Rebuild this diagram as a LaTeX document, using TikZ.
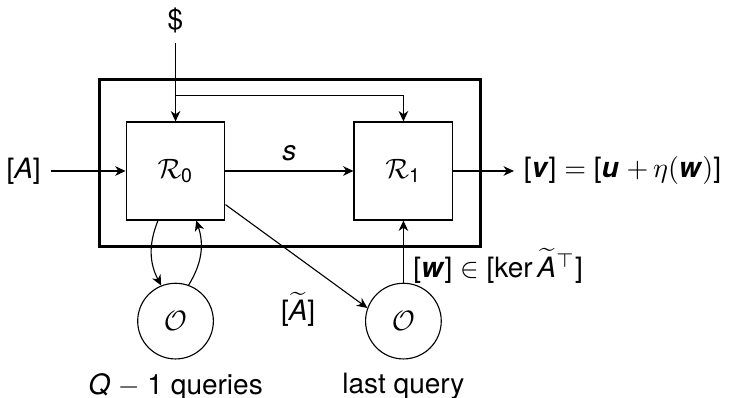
\documentclass[tikz,border=0pt]{standalone}
\usepackage{amsmath}
\usepackage{fontspec}
\setmainfont{TeX Gyre Heros}
\usetikzlibrary{arrows.meta, calc, positioning}

\newcommand{\mvar}[1]{\textit{#1}}
\newcommand{\bvar}[1]{\textbf{\textit{#1}}}
\newcommand{\tildeA}{\widetilde{\text{\itshape A}}}

\begin{document}
\begin{tikzpicture}[
    node distance=16mm,
    every node/.style={font=\normalsize},
    reduct/.style={draw, minimum width=12.4mm, minimum height=12.3mm, inner sep=0pt},
    oracle/.style={draw, circle, minimum size=9.5mm, inner sep=0pt},
    arr/.style={-{Stealth[length=1.3mm, width=1.2mm, inset=0.4mm]}},
  ]
  \useasboundingbox (-22.03mm,21.46mm) rectangle (70.09mm,-28.49mm);
  % --- reductions
  \node[reduct] (R0) at (0,0) {$\mathcal{R}_{\text{0}}$};
  \node[reduct, right=16.06mm of R0] (R1) {$\mathcal{R}_{\text{1}}$};
  % --- oracles
  \node[oracle, below=7.8mm of R0] (Oq) {$\mathcal{O}$};
  \node[oracle, below=7.8mm of R1] (Olast) {$\mathcal{O}$};
  \node[below=0.5mm of Oq] (qlbl) {\mvar{Q} $-$ 1 queries};
  \node[below=0.5mm of Olast] (lastlbl) {last query};
  % --- inputs and output
  \node[above=9.9mm of R0] (coins) {\$};
  \node[left=9.4mm of R0] (inA) {[\mvar{A}]};
  \node[right=7.6mm of R1] (outV) {[\bvar{v}] $=$ [\bvar{u} $+\,\eta($\bvar{w}$)$]};
  % --- frame
  \draw[line width=1pt] ($(R0.north west)+(-3.26mm,5.27mm)$) rectangle ($(R1.south east)+(3.39mm,-3.26mm)$);
  \coordinate (split) at ($(R0.north)+(0,3.26mm)$);
  \coordinate (cut) at ($(R0.south east)+(0,2mm)$);
  % --- edges
  \draw[arr] (coins) -- (R0);
  \draw[arr] (split) -| (R1.north);
  \draw[arr] (inA) -- (R0);
  \draw[arr] (R0) -- node[above] {\mvar{s}} (R1);
  \draw[arr] (R1) -- (outV);
  \draw[arr] ($(R0.south)+(-2.2mm,0)$) to[bend right=25] (Oq.112);
  \draw[arr] (Oq.70) to[bend right=25] ($(R0.south)+(2.6mm,0)$);
  \draw[arr] (cut) -- (Olast.160);
  \draw[arr] (Olast) -- node[right, pos=0.27] {[\bvar{w}] $\in$ [ker\,$\tildeA\vphantom{A}^{\top}$]} (R1);
  % --- label
  \node[left=5mm of Olast, yshift=1.5mm] (atil) {[$\tildeA$]};
\end{tikzpicture}
\end{document}
